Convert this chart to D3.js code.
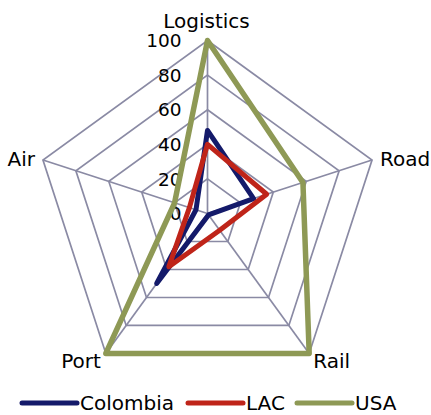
<!DOCTYPE html>
<html>
<head>
<meta charset="utf-8">
<script src="https://cdn.jsdelivr.net/npm/d3@7"></script>
<style>
  html, body { margin: 0; padding: 0; background: #ffffff; }
  svg { display: block; font-family: "DejaVu Sans", sans-serif; }
</style>
</head>
<body>
<svg id="chart" width="431" height="415"></svg>
<script>
// Radar chart: logistics performance indices by transport mode
const axes = ["Logistics", "Road", "Rail", "Port", "Air"];
const colombia = [48, 28, 1, 50, 7];
const lac = [40, 36, 12, 38, 11];
const usa = [100, 58, 100, 100, 20];
const seriesNames = ["Colombia", "LAC", "USA"];
const seriesColors = ["#141a6a", "#bf2419", "#8e9955"];
const tickValues = [0, 20, 40, 60, 80, 100];

const series = [colombia, lac, usa].map((values, i) => ({
  name: seriesNames[i], color: seriesColors[i], values
}));

const svg = d3.select("#chart");
const cx = 207.5, cy = 213.5, R = 173;

const r = d3.scaleLinear().domain([0, 100]).range([0, R]);
const angle = d3.scaleLinear().domain([0, axes.length]).range([0, 2 * Math.PI]);
const pt = (i, v) => [cx + r(v) * Math.sin(angle(i)), cy - r(v) * Math.cos(angle(i))];

const g = svg.append("g");

// concentric pentagon rings
const rings = tickValues.filter(d => d > 0);
g.selectAll("path.ring").data(rings).join("path")
  .attr("class", "ring")
  .attr("d", v => d3.line()(axes.map((_, i) => pt(i, v))) + "Z")
  .attr("fill", "none")
  .attr("stroke", "#8a8aa4")
  .attr("stroke-width", 1.7);

// spokes
g.selectAll("line.spoke").data(axes).join("line")
  .attr("class", "spoke")
  .attr("x1", cx).attr("y1", cy)
  .attr("x2", (_, i) => pt(i, 100)[0])
  .attr("y2", (_, i) => pt(i, 100)[1])
  .attr("stroke", "#8a8aa4")
  .attr("stroke-width", 1.7);

// value labels along the Logistics axis
g.selectAll("text.tick").data(tickValues).join("text")
  .attr("class", "tick")
  .attr("x", cx - 26)
  .attr("y", v => cy - r(v))
  .attr("dy", "0.36em")
  .attr("text-anchor", "end")
  .attr("font-size", 18.5)
  .attr("fill", "#000")
  .text(v => v);

// series outlines
const radial = d3.lineRadial()
  .angle((d, i) => angle(i))
  .radius(d => r(d))
  .curve(d3.curveLinearClosed);

g.append("g").attr("transform", `translate(${cx},${cy})`)
  .selectAll("path.series").data(series).join("path")
  .attr("class", "series")
  .attr("d", d => radial(d.values))
  .attr("fill", "none")
  .attr("stroke", d => d.color)
  .attr("stroke-width", d => d.name === "USA" ? 5.5 : 5)
  .attr("stroke-linejoin", "round")
  .attr("stroke-linecap", "round");

// axis names
const labelPos = [
  { dx: -1, dy: -13, anchor: "middle" },
  { dx: 8, dy: 6, anchor: "start" },
  { dx: 4, dy: 15, anchor: "start" },
  { dx: -5, dy: 15, anchor: "end" },
  { dx: -8, dy: 6, anchor: "end" }
];
g.selectAll("text.axis").data(axes).join("text")
  .attr("class", "axis")
  .attr("x", (_, i) => pt(i, 100)[0] + labelPos[i].dx)
  .attr("y", (_, i) => pt(i, 100)[1] + labelPos[i].dy)
  .attr("text-anchor", (_, i) => labelPos[i].anchor)
  .attr("font-size", 20)
  .attr("fill", "#000")
  .text(d => d);

// legend
const legendX = [22, 188, 297];
const legend = svg.append("g").selectAll("g").data(series).join("g")
  .attr("transform", (_, i) => `translate(${legendX[i]},403)`);
legend.append("line")
  .attr("x1", 0).attr("x2", 55).attr("y1", 0).attr("y2", 0)
  .attr("stroke", d => d.color)
  .attr("stroke-width", 5)
  .attr("stroke-linecap", "round");
legend.append("text")
  .attr("x", 58).attr("y", 0).attr("dy", "0.36em")
  .attr("font-size", 20)
  .attr("fill", "#000")
  .text(d => d.name);
</script>
</body>
</html>
